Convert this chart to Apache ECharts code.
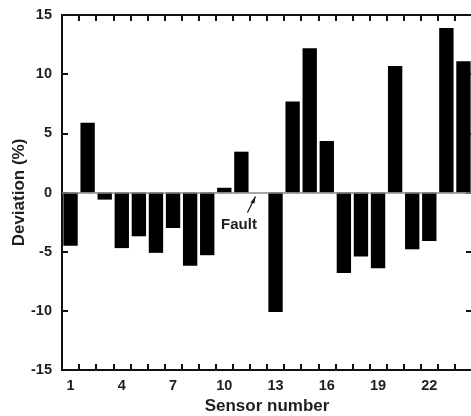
<!DOCTYPE html>
<html><head><meta charset="utf-8">
<script src="https://cdn.jsdelivr.net/npm/echarts@6/dist/echarts.min.js"></script>
<style>html,body{margin:0;padding:0;background:#fff}#c{width:471px;height:416px}</style>
</head><body><div id="c"></div>
<script>
var sensors = ['1','2','3','4','5','6','7','8','9','10','11','12','13','14','15','16','17','18','19','20','21','22','23','24'];
var deviation = [-4.5, 5.9, -0.6, -4.7, -3.7, -5.1, -3.0, -6.2, -5.3, 0.4, 3.45, null, -10.1, 7.7, 12.2, 4.35, -6.8, -5.4, -6.4, 10.7, -4.8, -4.1, 13.9, 11.1];
var yTicks = [-15, -10, -5, 0, 5, 10, 15];
var faultIndex = 11;

var chart = echarts.init(document.getElementById('c'));
var font = 'Liberation Sans, Arial, sans-serif';
var txt = '#1e1e1e';
var axisLine = {show: true, onZero: false, lineStyle: {color: '#111', width: 2}};
var tick = {show: true, inside: true, length: 6, lineStyle: {color: '#111', width: 2}};
chart.setOption({
  animation: false,
  grid: {left: 62, top: 15, width: 410, bottom: 46, containLabel: false, outerBoundsMode: 'none'},
  xAxis: [{
    type: 'category', data: sensors, position: 'bottom',
    axisLine: axisLine,
    axisTick: Object.assign({interval: 0}, tick),
    axisLabel: {interval: 2, color: txt, fontFamily: font, fontWeight: 'bold', fontSize: 14.5, margin: 8},
    name: 'Sensor number', nameLocation: 'middle', nameGap: 28, nameMoveOverlap: false,
    nameTextStyle: {color: txt, fontFamily: font, fontWeight: 'bold', fontSize: 17}
  }, {
    type: 'category', data: sensors, position: 'top',
    axisLine: axisLine,
    axisTick: Object.assign({interval: 0}, tick),
    axisLabel: {show: false}
  }],
  yAxis: [{
    type: 'value', min: -15, max: 15, interval: 5, position: 'left',
    axisLine: axisLine,
    axisTick: tick,
    splitLine: {show: false},
    axisLabel: {color: txt, fontFamily: font, fontWeight: 'bold', fontSize: 14.5, margin: 10,
      formatter: function (v) { return yTicks.indexOf(v) >= 0 ? String(v) : ''; }},
    name: 'Deviation (%)', nameLocation: 'middle', nameGap: 34, nameRotate: 90, nameMoveOverlap: false,
    nameTextStyle: {color: txt, fontFamily: font, fontWeight: 'bold', fontSize: 17}
  }, {
    type: 'value', min: -15, max: 15, interval: 5, position: 'right',
    axisLine: axisLine,
    axisTick: tick,
    splitLine: {show: false}, axisLabel: {show: false}
  }],
  series: [{
    type: 'bar', data: deviation, barWidth: '84%', xAxisIndex: 0, yAxisIndex: 0,
    itemStyle: {color: '#000'},
    markLine: {silent: true, symbol: ['none', 'none'], label: {show: false},
      lineStyle: {color: '#888', width: 1.5, type: 'solid'},
      data: [{yAxis: 0}]}
  }]
});

// Fault annotation anchored to the faulty sensor's category
var p0 = chart.convertToPixel({xAxisIndex: 0, yAxisIndex: 0}, [faultIndex, 0]);
var tip = [p0[0] - 3, p0[1] + 4];
var tail = [p0[0] - 11, p0[1] + 20];
chart.setOption({
  graphic: [{
    type: 'line', shape: {x1: tail[0], y1: tail[1], x2: tip[0], y2: tip[1]},
    style: {stroke: '#111', lineWidth: 1.2}
  }, {
    type: 'polygon',
    shape: {points: [[tip[0], tip[1]], [tip[0] - 5, tip[1] + 6], [tip[0] - 1, tip[1] + 7]]},
    style: {fill: '#111'}
  }, {
    type: 'text', x: p0[0] - 19.5, y: p0[1] + 32,
    style: {text: 'Fault', fill: txt, font: 'bold 15px ' + font, textAlign: 'center', textVerticalAlign: 'middle'}
  }]
});
</script></body></html>
